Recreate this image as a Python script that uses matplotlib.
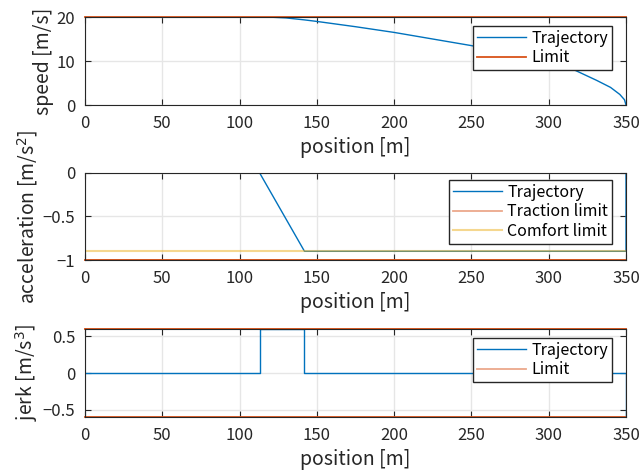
import matplotlib
matplotlib.use('Agg')
import matplotlib.pyplot as plt

plt.rcParams['font.family'] = ['Noto Sans CJK JP', 'DejaVu Sans']

# 色 (MATLAB default)
blue = '#0072BD'
orange = '#D95319'
yellow = '#EDB120'
axcol = '#262626'

# speed
pos_v = [0, 113, 120, 130, 142, 150, 175, 200, 225, 250, 275, 300, 317, 331, 340, 346, 349, 350]
speed = [20, 20, 19.97, 19.8, 19.35, 19.0, 17.8, 16.5, 15.0, 13.5, 11.7, 9.6, 7.9, 5.6, 4.0, 2.4, 1.2, 0]
speed_limit = 20

# acceleration
pos_a = [0, 113, 142, 350, 350]
accel = [0, 0, -0.9, -0.9, 0]
traction_limit = -1
comfort_limit = -0.9

# jerk
pos_j = [0, 113, 113, 142, 142, 350, 350]
jerk = [0, 0, 0.6, 0.6, 0, 0, -0.6]
jerk_limit = 0.6

xticks = [0, 50, 100, 150, 200, 250, 300, 350]

fig = plt.figure(figsize=(6.42, 4.73), dpi=100)
ax1 = fig.add_axes([0.1324, 0.778, 0.8427, 0.186])
ax2 = fig.add_axes([0.1324, 0.4503, 0.8427, 0.184])
ax3 = fig.add_axes([0.1324, 0.1184, 0.8427, 0.186])

def style(ax):
    ax.set_xlim(0, 350)
    ax.set_xticks(xticks)
    ax.grid(True, color='#E6E6E6', linewidth=1)
    ax.set_axisbelow(True)
    ax.tick_params(direction='in', top=True, right=True, labelsize=12, colors=axcol, length=4, pad=7)
    for s in ax.spines.values():
        s.set_color(axcol)
        s.set_linewidth(0.8)
    ax.set_xlabel('position [m]', fontsize=14, color=axcol, labelpad=4)

leg_kw = dict(loc='upper right', fancybox=False, edgecolor=axcol, framealpha=1, fontsize=11.5,
              borderpad=0.25, borderaxespad=0, handlelength=3.1, handletextpad=0.3, labelspacing=0.15)

# 速度
ax1.plot(pos_v, speed, color=blue, lw=1, label='Trajectory')
ax1.plot([0, 350], [speed_limit, speed_limit], color=orange, lw=1.3, label='Limit', clip_on=False)
ax1.set_ylim(0, 20)
ax1.set_yticks([0, 10, 20])
ax1.set_ylabel('speed [m/s]', fontsize=14, color=axcol, labelpad=2)
style(ax1)
ax1.legend(bbox_to_anchor=(0.974, 0.9), **leg_kw)

# 加速度
ax2.plot(pos_a, accel, color=blue, lw=1, label='Trajectory')
ax2.plot([0, 350], [traction_limit, traction_limit], color=orange, lw=1.3, alpha=0.5, label='Traction limit', clip_on=False)
ax2.plot([0, 350], [traction_limit, traction_limit], color=orange, lw=1.3, clip_on=False)
ax2.plot([0, 350], [comfort_limit, comfort_limit], color=yellow, lw=1.5, alpha=0.5, label='Comfort limit')
ax2.set_ylim(-1, 0)
ax2.set_yticks([-1, -0.5, 0])
ax2.set_yticklabels(['\u22121', '\u22120.5', '0'])
ax2.set_ylabel('acceleration [m/s$^2$]', fontsize=14, color=axcol, labelpad=2)
style(ax2)
ax2.legend(bbox_to_anchor=(0.974, 0.92), **leg_kw)

# ジャーク
ax3.plot(pos_j, jerk, color=blue, lw=1, label='Trajectory')
ax3.plot([0, 350], [jerk_limit, jerk_limit], color=orange, lw=1.3, alpha=0.5, label='Limit', clip_on=False)
ax3.plot([0, 350], [jerk_limit, jerk_limit], color=orange, lw=1.3, clip_on=False)
ax3.plot([0, 350], [-jerk_limit, -jerk_limit], color=orange, lw=1.3, clip_on=False)
ax3.set_ylim(-0.6, 0.6)
ax3.set_yticks([-0.5, 0, 0.5])
ax3.set_yticklabels(['\u22120.5', '0', '0.5'])
ax3.set_ylabel('jerk [m/s$^3$]', fontsize=14, color=axcol, labelpad=2)
style(ax3)
ax3.legend(bbox_to_anchor=(0.974, 0.9), **leg_kw)

fig.savefig('out.png', dpi=100)
